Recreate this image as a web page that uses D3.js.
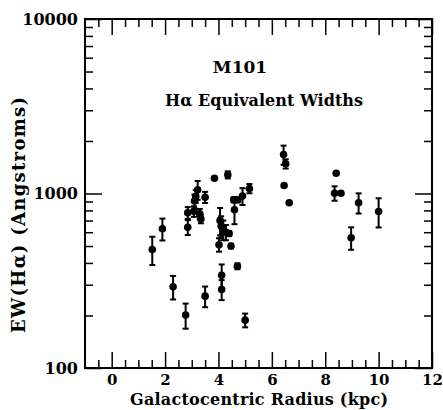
<!DOCTYPE html>
<html>
<head>
<meta charset="utf-8">
<script src="https://cdn.jsdelivr.net/npm/d3@7"></script>
<style>
    body { margin: 0; background: #fff; }
    .frame { fill: none; stroke: #000; stroke-width: 2; }
    .axis path { display: none; }
    .axis line { stroke: #000; stroke-width: 1.5; }
    .axis text { font-family: "DejaVu Serif", serif; font-weight: bold; fill: #000; }
    .label { font-family: "DejaVu Serif", serif; font-weight: bold; fill: #000; }
    .err { stroke: #000; stroke-width: 2; }
</style>
</head>
<body>
<div class="container"></div>
<script>
const WIDTH = 443;
const HEIGHT = 410;
const MARGIN = {top: 19, right: 11, bottom: 42, left: 85};

const INNER_WIDTH = WIDTH - MARGIN.left - MARGIN.right;
const INNER_HEIGHT = HEIGHT - MARGIN.top - MARGIN.bottom;

// galactocentric radius (kpc), EW(Ha) (Angstroms), +/- error (0 = no bar)
var radius = [1.52, 1.90, 2.30, 2.77, 2.85, 2.85, 3.08, 3.10, 3.15, 3.22,
              3.30, 3.34, 3.50, 3.50, 3.85, 4.35, 4.02, 4.06, 4.10, 4.18,
              4.28, 4.40, 4.12, 4.12, 4.47, 4.71, 5.00, 4.57, 4.72, 4.90,
              4.60, 5.16, 6.44, 6.52, 6.46, 6.65, 8.41, 8.35, 8.59, 8.97,
              9.25, 10.0];
var ew = [477, 628, 292, 201, 776, 641, 790, 905, 965, 1050,
          765, 715, 952, 258, 1222, 1280, 509, 701, 650, 620,
          600, 590, 340, 282, 500, 383, 188, 920, 920, 966,
          807, 1068, 1671, 1480, 1111, 885, 1306, 1004, 1004, 558,
          885, 789];
var ewErr = [88, 90, 45, 33, 60, 63, 55, 80, 80, 130,
             50, 40, 70, 35, 0, 60, 45, 125, 90, 80,
             60, 20, 52, 37, 15, 15, 17, 30, 30, 107,
             140, 65, 210, 90, 0, 0, 0, 95, 0, 82,
             117, 150];

var xMajor = [0, 2, 4, 6, 8, 10, 12];
var xMinor = d3.range(-0.5, 12, 0.5).filter(function (d) { return d % 2 !== 0; });
var yMajor = [100, 1000, 10000];
var yMinor = [200, 300, 400, 500, 600, 700, 800, 900,
              2000, 3000, 4000, 5000, 6000, 7000, 8000, 9000];

var title = "M101";
var subtitle = "H\u03b1 Equivalent Widths";
var xTitle = "Galactocentric Radius (kpc)";
var yTitle = "EW(H\u03b1) (Angstroms)";

var translate = function (x, y) {
    return "translate(" + x + "," + y + ")";
};

var svg = d3.select('.container').append('svg')
    .attr('width', WIDTH)
    .attr('height', HEIGHT);

var xScale = d3.scaleLinear()
    .domain([-1, 12])
    .range([0, INNER_WIDTH]);

var yScale = d3.scaleLog()
    .domain([100, 10000])
    .range([INNER_HEIGHT, 0]);

var g = svg.append('g')
    .attr('transform', translate(MARGIN.left, MARGIN.top));

var none = function () { return ""; };

// bottom axis, labelled
g.append('g').attr('class', 'axis').attr('transform', translate(0, INNER_HEIGHT))
    .call(d3.axisBottom(xScale).tickValues(xMajor).tickSize(-16).tickSizeOuter(0).tickPadding(6))
    .selectAll('text').style('font-size', '15px');
g.append('g').attr('class', 'axis').attr('transform', translate(0, INNER_HEIGHT))
    .call(d3.axisBottom(xScale).tickValues(xMinor).tickSize(-8).tickSizeOuter(0).tickFormat(none));

// top axis, ticks only
g.append('g').attr('class', 'axis')
    .call(d3.axisTop(xScale).tickValues(xMajor).tickSize(-16).tickSizeOuter(0).tickFormat(none));
g.append('g').attr('class', 'axis')
    .call(d3.axisTop(xScale).tickValues(xMinor).tickSize(-8).tickSizeOuter(0).tickFormat(none));

// left axis, labelled
g.append('g').attr('class', 'axis')
    .call(d3.axisLeft(yScale).tickValues(yMajor).tickSize(-17).tickSizeOuter(0)
        .tickPadding(7).tickFormat(d3.format('d')))
    .selectAll('text').style('font-size', '16px');
g.append('g').attr('class', 'axis')
    .call(d3.axisLeft(yScale).tickValues(yMinor).tickSize(-8).tickSizeOuter(0).tickFormat(none));

// right axis, ticks only
g.append('g').attr('class', 'axis').attr('transform', translate(INNER_WIDTH, 0))
    .call(d3.axisRight(yScale).tickValues(yMajor).tickSize(-17).tickSizeOuter(0).tickFormat(none));
g.append('g').attr('class', 'axis').attr('transform', translate(INNER_WIDTH, 0))
    .call(d3.axisRight(yScale).tickValues(yMinor).tickSize(-8).tickSizeOuter(0).tickFormat(none));

g.append('rect')
    .attr('class', 'frame')
    .attr('x', 0)
    .attr('y', 0)
    .attr('width', INNER_WIDTH)
    .attr('height', INNER_HEIGHT);

// data points with error bars
var points = d3.range(radius.length).map(function (i) {
    return {x: radius[i], y: ew[i], e: ewErr[i]};
});
var withErr = points.filter(function (d) { return d.e > 0; });

g.selectAll('.bar').data(withErr).enter().append('line')
    .attr('class', 'err')
    .attr('x1', function (d) { return xScale(d.x); })
    .attr('x2', function (d) { return xScale(d.x); })
    .attr('y1', function (d) { return yScale(d.y - d.e); })
    .attr('y2', function (d) { return yScale(d.y + d.e); });

['lo', 'hi'].forEach(function (side) {
    g.selectAll('.cap-' + side).data(withErr).enter().append('line')
        .attr('class', 'err')
        .attr('x1', function (d) { return xScale(d.x) - 3; })
        .attr('x2', function (d) { return xScale(d.x) + 3; })
        .attr('y1', function (d) { return yScale(side === 'lo' ? d.y - d.e : d.y + d.e); })
        .attr('y2', function (d) { return yScale(side === 'lo' ? d.y - d.e : d.y + d.e); });
});

g.selectAll('circle').data(points).enter().append('circle')
    .attr('cx', function (d) { return xScale(d.x); })
    .attr('cy', function (d) { return yScale(d.y); })
    .attr('r', 3.8)
    .attr('fill', '#000');

// titles
svg.append('text').attr('class', 'label')
    .attr('x', 240).attr('y', 73)
    .attr('text-anchor', 'middle')
    .style('font-size', '17px')
    .text(title);
svg.append('text').attr('class', 'label')
    .attr('x', 264).attr('y', 106)
    .attr('text-anchor', 'middle')
    .style('font-size', '16px')
    .attr('textLength', 198)
    .text(subtitle);

svg.append('text').attr('class', 'label')
    .attr('x', 259).attr('y', 405)
    .attr('text-anchor', 'middle')
    .style('font-size', '16px')
    .attr('textLength', 258)
    .text(xTitle);

svg.append('text').attr('class', 'label')
    .attr('transform', translate(25, 215) + ' rotate(-90)')
    .attr('text-anchor', 'middle')
    .style('font-size', '18px')
    .attr('textLength', 236)
    .text(yTitle);
</script>
</body>
</html>
